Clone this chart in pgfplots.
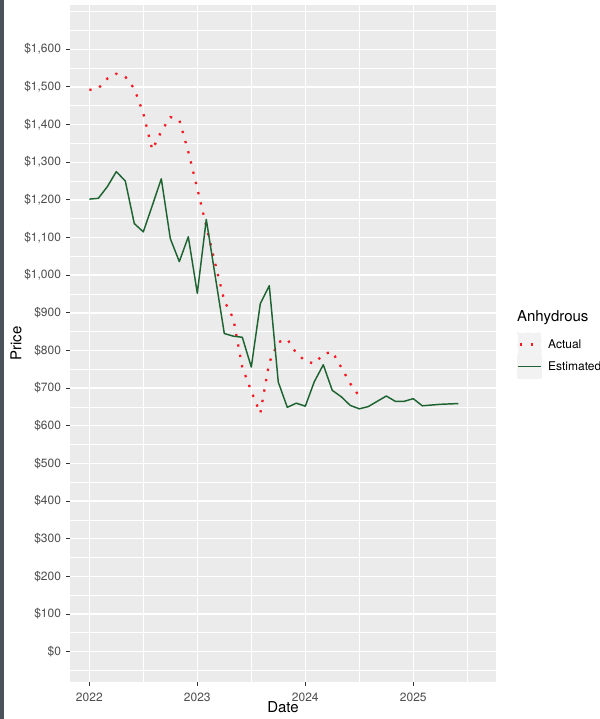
\documentclass[border=0pt]{standalone}
\usepackage{pgfplots}
\pgfplotsset{compat=1.18}
\usepackage{pgfplotstable}
\usepackage{fontspec}
\setmainfont{TeX Gyre Heros}
\definecolor{panelbg}{HTML}{EBEBEB}
\definecolor{ticklab}{HTML}{4D4D4D}
\definecolor{tickcol}{HTML}{333333}
\definecolor{keybg}{HTML}{F2F2F2}
\definecolor{actualred}{RGB}{245,25,35}
\definecolor{estgreen}{RGB}{30,100,50}
\definecolor{strip}{RGB}{75,82,92}

% month index 0 = Jan 2022
\pgfplotstableread{
m price
0 1492
1 1496
2 1522
3 1535
4 1527
5 1495
6 1430
7 1333
8 1382
9 1420
10 1412
11 1328
12 1230
13 1130
14 1030
15 932
16 885
17 755
18 692
19 633
20 768
21 822
22 830
23 793
24 772
25 765
26 790
27 797
28 755
29 712
30 678
}\actual

\pgfplotstableread{
m price
0 1202
1 1204
2 1235
3 1275
4 1250
5 1137
6 1115
7 1185
8 1256
9 1097
10 1036
11 1102
12 952
13 1148
14 996
15 845
16 838
17 835
18 756
19 924
20 972
21 716
22 649
23 660
24 652
25 717
26 762
27 694
28 677
29 654
30 645
31 651
32 665
33 679
34 665
35 665
36 672
37 653
38 655
39 657
40 658
41 659
}\estimated

\begin{document}
\begin{tikzpicture}
\useasboundingbox (0,0) rectangle (450pt,539.25pt);
\fill[strip] (0,0) rectangle (3.3pt,539.25pt);
\begin{axis}[
  at={(52.5pt,27.75pt)}, anchor=south west,
  scale only axis, width=319.5pt, height=507.75pt,
  xmin=2021.821, xmax=2025.766, ymin=-80.5, ymax=1717.5,
  clip=false,
  axis background/.style={fill=panelbg},
  axis line style={draw=none},
  tick pos=left, tick align=outside,
  major tick length=2.8pt, minor tick length=0pt,
  every tick/.style={tickcol, line width=0.75pt},
  xtick={2022,2023,2024,2025}, xticklabels={2022,2023,2024,2025},
  minor xtick={2022.5,2023.5,2024.5,2025.5},
  ytick={0,100,...,1600},
  yticklabels={\$0,\$100,\$200,\$300,\$400,\$500,\$600,\$700,\$800,\$900,\$1{,}000,\$1{,}100,\$1{,}200,\$1{,}300,\$1{,}400,\$1{,}500,\$1{,}600},
  minor ytick={-50,50,150,250,350,450,550,650,750,850,950,1050,1150,1250,1350,1450,1550,1650,1700},
  grid=both,
  major grid style={white, line width=1.05pt},
  minor grid style={white, line width=0.55pt},
  /pgf/number format/assume math mode=true,
  ticklabel style={font=\fontsize{9}{10}\selectfont, text=ticklab},
  yticklabel style={anchor=east, inner sep=0pt, xshift=-3.75pt},
  xticklabel style={anchor=center, inner sep=0pt, yshift=-8.5pt},
  xlabel={Date}, ylabel={Price},
  label style={font=\fontsize{11.25}{13}\selectfont, text=black},
  xlabel style={at={(axis description cs:0.5,-0.0369)}, anchor=center},
  ylabel style={at={(axis description cs:-0.1268,0.5)}, anchor=center},
  legend cell align=left,
  legend style={at={(axis description cs:1.049,0.517)}, anchor=north west,
    draw=none, fill=none, inner sep=0pt, outer sep=0pt, row sep=-2.25pt,
    font=\fontsize{9}{10}\selectfont,
    nodes={inner sep=0pt, text depth=0pt}},
]
\addplot[color=actualred, line width=1.7pt, dash pattern=on 1.7pt off 6.2pt, line cap=butt, line join=bevel,
  legend image code/.code={
    \fill[keybg] (0pt,-8.625pt) rectangle (17.25pt,8.625pt);
    \draw[actualred, line width=1.7pt, dash pattern=on 1.7pt off 6.2pt, dash phase=-1.5pt] (0pt,0pt) -- (17.25pt,0pt);
    \path (21.75pt,0pt);
  }]
  table[x expr={2022+\thisrow{m}/12}, y=price] {\actual};
\addlegendentry{Actual}
\addplot[color=estgreen, line width=1.1pt, line join=round,
  legend image code/.code={
    \fill[keybg] (0pt,-8.625pt) rectangle (17.25pt,8.625pt);
    \draw[estgreen, line width=1.1pt] (0pt,0pt) -- (17.25pt,0pt);
    \path (21.75pt,0pt);
  }]
  table[x expr={2022+\thisrow{m}/12}, y=price] {\estimated};
\addlegendentry{Estimated}
\node[anchor=west, inner sep=0pt, font=\fontsize{11.25}{13}\selectfont] at (axis description cs:1.049,0.5377) {Anhydrous};
\end{axis}
\end{tikzpicture}
\end{document}
